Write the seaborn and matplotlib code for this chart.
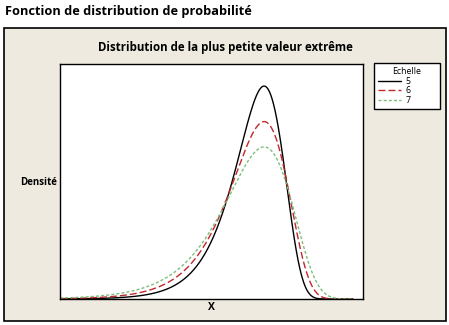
import numpy as np
import pandas as pd
import matplotlib
matplotlib.use("Agg")
import matplotlib.pyplot as plt
import seaborn as sns
from matplotlib.patches import Rectangle
from matplotlib.lines import Line2D

# Data: smallest extreme value distribution, location 0, scales 5, 6, 7
location = 0.0
scales = [5, 6, 7]
x_min, x_max = -42.5, 18.5
x_axis_max = 20.6
y_axis_max = 0.0812

main_title = "Fonction de distribution de probabilité"
plot_title = "Distribution de la plus petite valeur extrême"
x_label = "X"
y_label = "Densité"
legend_title = "Echelle"

x = np.linspace(x_min, x_max, 700)
frames = []
for b in scales:
    z = (x - location) / b
    dens = (1.0 / b) * np.exp(z) * np.exp(-np.exp(z))
    frames.append(pd.DataFrame({"x": x, "density": dens, "Echelle": str(b)}))
df = pd.concat(frames, ignore_index=True)

sns.set_theme(style="white")
plt.rcParams["font.family"] = ["Open Sans", "DejaVu Sans"]
plt.rcParams["text.color"] = "black"

W, H = 449, 325
fig = plt.figure(figsize=(W / 100, H / 100), dpi=100)
fig.patch.set_facecolor("white")

# beige panel with black border
fig.patches.append(Rectangle((4 / W, 1 - 321 / H), 442 / W, 293 / H,
                             transform=fig.transFigure, facecolor="#EEEAE0",
                             edgecolor="black", linewidth=1.2, zorder=-5))

ax = fig.add_axes([60 / W, 1 - 299 / H, 303 / W, 235 / H])
ax.set_zorder(2)
ax.set_facecolor("white")

palette = {"5": "black", "6": "#C0282B", "7": "#7DBE7D"}
dashes = {"5": "", "6": (5, 2.2), "7": (2.2, 1.5)}
sns.lineplot(data=df, x="x", y="density", hue="Echelle", style="Echelle",
             palette=palette, dashes=dashes, ax=ax, linewidth=1.0, legend=False)

ax.set_xlim(x_min, x_axis_max)
ax.set_ylim(0, y_axis_max)
ax.set_xticks([])
ax.set_yticks([])
ax.set_xlabel("")
ax.set_ylabel("")
for s in ax.spines.values():
    s.set_color("black")
    s.set_linewidth(1.0)

fig.text(5 / W, 1 - 12 / H, main_title, fontsize=9.2, fontweight="bold",
         ha="left", va="center", color="black")
fig.text(225 / W, 1 - 48 / H, plot_title, fontsize=8.3, fontweight="bold",
         ha="center", va="center", color="black")
fig.text(211 / W, 1 - 307 / H, x_label, fontsize=7.5, fontweight="bold",
         ha="center", va="center", color="black")
fig.text(20 / W, 1 - 183 / H, y_label, fontsize=7.0, fontweight="bold",
         ha="left", va="center", color="black")

handles = [Line2D([0], [0], color=palette[k], linewidth=1.0,
                  linestyle="-" if dashes[k] == "" else (0, dashes[k]))
           for k in ["5", "6", "7"]]
leg = fig.legend(handles, ["5", "6", "7"], title=legend_title,
                 loc="upper left",
                 bbox_to_anchor=(374 / W, 1 - 110 / H, 66 / W, 47 / H),
                 bbox_transform=fig.transFigure, mode="expand", fontsize=6.3,
                 title_fontsize=6.3, frameon=True, fancybox=False,
                 framealpha=1.0,
                 handlelength=2.6, handletextpad=0.5, borderpad=0.5,
                 borderaxespad=0.0, labelspacing=0.05, alignment="center")
leg.get_frame().set_edgecolor("black")
leg.get_frame().set_facecolor("white")
leg.get_frame().set_linewidth(1.0)
leg.set_zorder(3)

fig.savefig("out.png", dpi=100)
